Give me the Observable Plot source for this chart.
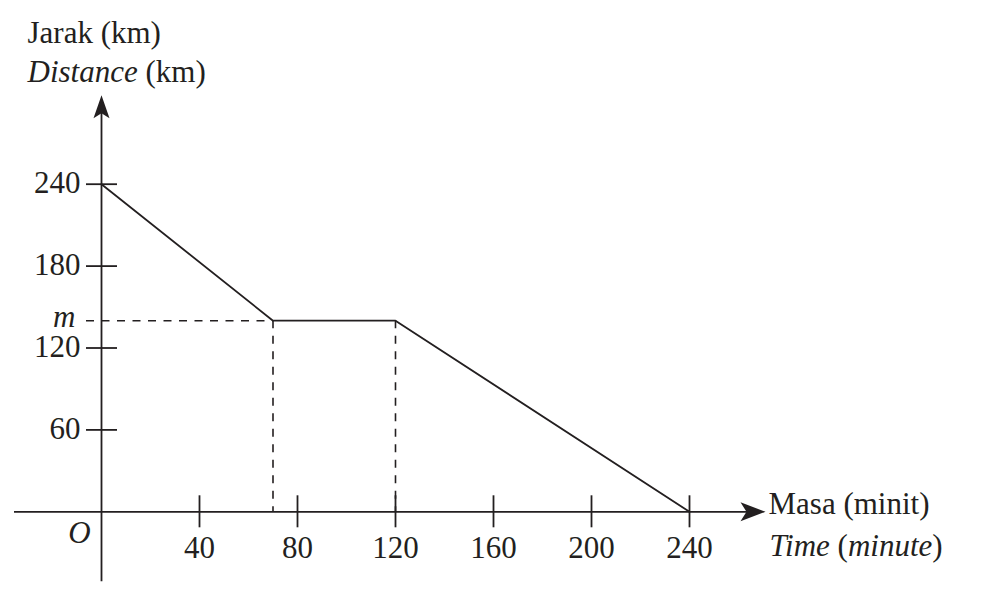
<!DOCTYPE html>
<html>
<head>
<meta charset="utf-8">
<script src="https://cdn.jsdelivr.net/npm/d3@7"></script>
<script src="https://cdn.jsdelivr.net/npm/@observablehq/plot@0.6"></script>
<style>
  html, body { margin: 0; padding: 0; background: #ffffff; }
  #chart svg { display: block; }
</style>
</head>
<body>
<div id="chart"></div>
<script>
// ---- data ----
const times = [0, 70, 120, 240];          // minutes
const distances = [240, 140, 140, 0];     // km
const xTicks = [40, 80, 120, 160, 200, 240];
const yTicks = [60, 120, 180, 240];
const mValue = [140];                     // the value "m"
const mLabel = ["m"];
const stopTimes = [70, 120];              // start / end of the stop
const originLabel = ["O"];
const yTitle = ["Jarak (km)", "Distance (km)"];
const xTitle = ["Masa (minit)", "Time (minute)"];

// ---- style ----
const ink = "#231f20";
const FS = 31;
const dash = "8,7.5";

const points = times.map((t, i) => ({t, d: distances[i]}));

const arrowUp = {draw(ctx) {
  ctx.moveTo(0, 0); ctx.lineTo(8, 23); ctx.lineTo(0, 18); ctx.lineTo(-8, 23); ctx.closePath();
}};
const arrowRight = {draw(ctx) {
  ctx.moveTo(0, 0); ctx.lineTo(-25, -9.5); ctx.lineTo(-19, 0); ctx.lineTo(-25, 9.5); ctx.closePath();
}};

const chart = Plot.plot({
  width: 991,
  height: 597,
  margin: 0,
  x: {domain: [0, 240], range: [101, 689], axis: null},
  y: {domain: [0, 240], range: [511.3, 183.7], axis: null},
  style: {fontFamily: "'Liberation Serif', 'Times New Roman', serif", background: "#ffffff", color: ink},
  marks: [
    // dashed guides
    Plot.ruleY(mValue, {y: d => d, x1: 0, x2: stopTimes[0], insetLeft: -15, stroke: ink, strokeWidth: 1.6, strokeDasharray: dash}),
    Plot.ruleX(stopTimes, {x: d => d, y1: mValue[0], y2: 0, stroke: ink, strokeWidth: 1.6, strokeDasharray: dash}),
    // axes lines
    Plot.ruleY([0], {y: d => d, x1: 0, x2: 240, insetLeft: -87, insetRight: -62, stroke: ink, strokeWidth: 1.8}),
    Plot.ruleX([0], {x: d => d, y1: 240, y2: 0, insetTop: -78, insetBottom: -70, stroke: ink, strokeWidth: 1.8}),
    // tick marks crossing the axes
    Plot.ruleX(xTicks, {x: d => d, y1: 0, y2: 0, insetTop: -16, insetBottom: -16, stroke: ink, strokeWidth: 1.8}),
    Plot.ruleY(yTicks, {y: d => d, x1: 0, x2: 0, insetLeft: -15, insetRight: -16, stroke: ink, strokeWidth: 1.8}),
    // arrow heads
    Plot.dot([0], {x: 0, y: 240, dy: -89, symbol: arrowUp, fill: ink, stroke: "none"}),
    Plot.dot([0], {x: 240, y: 0, dx: 76, symbol: arrowRight, fill: ink, stroke: "none"}),
    // the journey
    Plot.line(points, {x: "t", y: "d", stroke: ink, strokeWidth: 1.8, strokeLinejoin: "miter"}),
    // tick labels
    Plot.text(yTicks, {x: 0, y: d => d, text: d => String(d), textAnchor: "end", dx: -21, dy: -1, fontSize: FS, fill: ink}),
    Plot.text(mValue, {x: 0, y: d => d, text: () => mLabel[0], fontStyle: "italic", textAnchor: "end", dx: -26, dy: -4, fontSize: FS, fill: ink}),
    Plot.text(xTicks, {x: d => d, y: 0, text: d => String(d), dy: 36, fontSize: FS, fill: ink}),
    Plot.text(originLabel, {x: 0, y: 0, text: d => d, fontStyle: "italic", dx: -22, dy: 21, fontSize: FS, fill: ink}),
    // axis titles
    Plot.text([yTitle[0]], {x: 0, y: 240, text: d => d, textAnchor: "start", dx: -74, dy: -151, fontSize: FS, fill: ink}),
    Plot.text([yTitle[1]], {x: 0, y: 240, text: d => d, textAnchor: "start", dx: -74, dy: -112, fontSize: FS, fill: ink}),
    Plot.text([xTitle[0]], {x: 240, y: 0, text: d => d, textAnchor: "start", dx: 79, dy: -8, fontSize: FS, fill: ink}),
    Plot.text([xTitle[1]], {x: 240, y: 0, text: d => d, textAnchor: "start", dx: 80, dy: 34, fontSize: FS, fill: ink})
  ]
});

// mixed upright / italic runs inside the bilingual titles
const svgNS = "http://www.w3.org/2000/svg";
function styleRuns(root, full, runs) {
  root.querySelectorAll("text").forEach(t => {
    if (t.textContent === full) {
      t.textContent = "";
      runs.forEach(([s, italic]) => {
        const ts = document.createElementNS(svgNS, "tspan");
        ts.textContent = s;
        ts.setAttribute("font-style", italic ? "italic" : "normal");
        t.appendChild(ts);
      });
    }
  });
}
styleRuns(chart, yTitle[1], [["Distance", true], [" (km)", false]]);
styleRuns(chart, xTitle[1], [["Time", true], [" (", false], ["minute", true], [")", false]]);

document.getElementById("chart").appendChild(chart);
</script>
</body>
</html>
